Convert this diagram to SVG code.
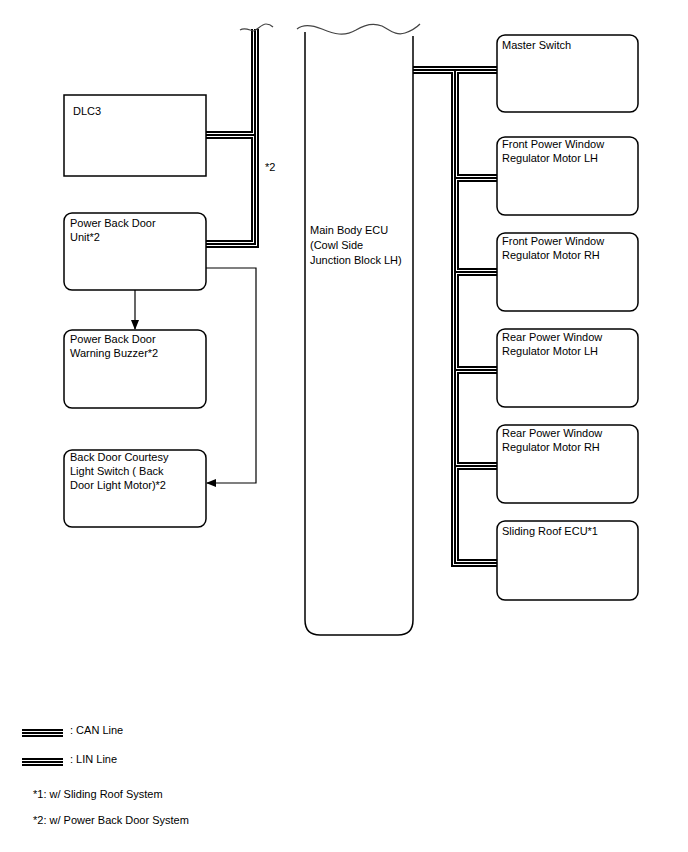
<svg xmlns="http://www.w3.org/2000/svg" width="688" height="852" viewBox="0 0 688 852">
<style>
text{font-family:"Liberation Sans",Arial,sans-serif;font-size:11px;fill:#000}
.box{fill:#fff;stroke:#000;stroke-width:1.5}
.bo{fill:none;stroke:#000;stroke-width:8}
.bw{fill:none;stroke:#fff;stroke-width:4}
.bc{fill:none;stroke:#000;stroke-width:2}
.ln{fill:none;stroke:#000;stroke-width:1.2}
.wave{fill:none;stroke:#444;stroke-width:1.2}
</style>
<defs>
<marker id="ah" markerWidth="10" markerHeight="8" refX="9" refY="4" orient="auto" markerUnits="userSpaceOnUse">
<path d="M0,0 L10,4 L0,8 Z" fill="#000"/>
</marker>
</defs>

<g id="connectors">
<g id="buses">
<path class="bo" d="M255,29 V244 H206 M255,135 H206 M413,70 H497 M455,70 V563 H497 M455,178 H497 M455,272 H497 M455,370 H497 M455,466 H497"/>
<path class="bw" d="M255,29 V244 H206 M255,135 H206 M413,70 H497 M455,70 V563 H497 M455,178 H497 M455,272 H497 M455,370 H497 M455,466 H497"/>
<path class="bc" d="M255,29 V244 H206 M255,135 H206 M413,70 H497 M455,70 V563 H497 M455,178 H497 M455,272 H497 M455,370 H497 M455,466 H497"/>
</g>
<path class="wave" d="M240,30 C245,27 249,30 253,31 C257,31 261,24 266,24 C269,24 271,25 273,27"/>
<path class="ln" d="M135,290 V329" marker-end="url(#ah)"/>
<path class="ln" d="M206,268 H256 V483 H207" marker-end="url(#ah)"/>
</g>

<g id="main-body-ecu">
<path d="M305,32 V620 Q305,635 320,635 H398 Q413,635 413,620 V36" fill="#fff" stroke="#000" stroke-width="1.5"/>
<path class="wave" d="M297,29 C303,24 312,25 322,29 C334,34 344,37 356,30 C364,25 372,22 382,26 C390,30 396,36 405,33 C411,31 416,28 420,24"/>
<text x="310" y="234">Main Body ECU</text>
<text x="310" y="249">(Cowl Side</text>
<text x="310" y="264">Junction Block LH)</text>
</g>

<g id="dlc3">
<rect class="box" x="64" y="95" width="142" height="81"/>
<text x="73" y="115">DLC3</text>
</g>
<g id="power-back-door-unit">
<rect class="box" x="64" y="213" width="142" height="77" rx="8"/>
<text x="70" y="227">Power Back Door</text>
<text x="70" y="241">Unit*2</text>
</g>
<g id="warning-buzzer">
<rect class="box" x="64" y="330" width="142" height="78" rx="8"/>
<text x="70" y="343">Power Back Door</text>
<text x="70" y="357">Warning Buzzer*2</text>
</g>
<g id="courtesy-light-switch">
<rect class="box" x="64" y="450" width="142" height="77" rx="8"/>
<text x="70" y="461">Back Door Courtesy</text>
<text x="70" y="475">Light Switch ( Back</text>
<text x="70" y="489">Door Light Motor)*2</text>
</g>
<text x="265" y="171">*2</text>

<g id="master-switch">
<rect class="box" x="497" y="35" width="141" height="77" rx="8"/>
<text x="502" y="49">Master Switch</text>
</g>
<g id="fpw-lh">
<rect class="box" x="497" y="137" width="141" height="78" rx="8"/>
<text x="502" y="148">Front Power Window</text>
<text x="502" y="162">Regulator Motor LH</text>
</g>
<g id="fpw-rh">
<rect class="box" x="497" y="233" width="141" height="78" rx="8"/>
<text x="502" y="245">Front Power Window</text>
<text x="502" y="259">Regulator Motor RH</text>
</g>
<g id="rpw-lh">
<rect class="box" x="497" y="329" width="141" height="78" rx="8"/>
<text x="502" y="341">Rear Power Window</text>
<text x="502" y="355">Regulator Motor LH</text>
</g>
<g id="rpw-rh">
<rect class="box" x="497" y="425" width="141" height="78" rx="8"/>
<text x="502" y="437">Rear Power Window</text>
<text x="502" y="451">Regulator Motor RH</text>
</g>
<g id="sliding-roof-ecu">
<rect class="box" x="497" y="521" width="141" height="79" rx="8"/>
<text x="502" y="535">Sliding Roof ECU*1</text>
</g>

<g id="legend">
<path class="bo" d="M22,733 H63 M22,762 H63"/>
<path class="bw" d="M22,733 H63 M22,762 H63"/>
<path class="bc" d="M22,733 H63 M22,762 H63"/>
<text x="70" y="734">: CAN Line</text>
<text x="70" y="763">: LIN Line</text>
<text x="33" y="798">*1: w/ Sliding Roof System</text>
<text x="33" y="824">*2: w/ Power Back Door System</text>
</g>
</svg>
